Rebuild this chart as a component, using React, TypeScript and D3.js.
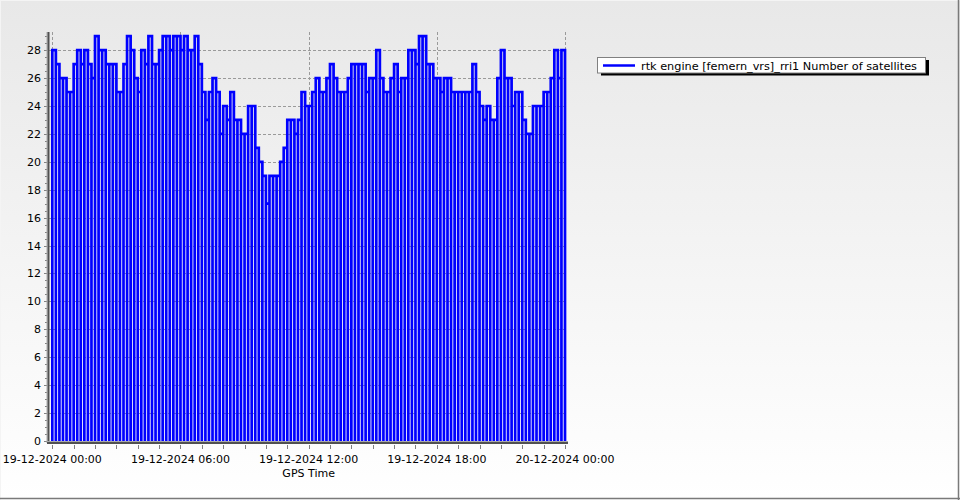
import React from 'react';
import * as d3 from 'd3';

// number of satellites, one value per 10 minutes, 19-12-2024 00:00 .. 24:00 (GPS time)
const satellites = [
  28, 27, 26, 26, 25, 25, 27, 28, 27, 28, 27, 26, 29, 28, 28, 27, 27, 27, 25, 25, 27, 29, 28, 26,
  25, 28, 27, 29, 27, 27, 28, 29, 29, 28, 29, 29, 28, 29, 28, 28, 29, 27, 25, 23, 25, 26, 25, 22,
  24, 23, 25, 23, 23, 22, 22, 24, 24, 21, 20, 19, 17, 19, 19, 19, 20, 21, 23, 23, 22, 23, 25, 24,
  24, 25, 26, 25, 25, 26, 27, 26, 25, 25, 25, 26, 27, 27, 27, 27, 25, 26, 26, 28, 26, 25, 25, 26,
  27, 25, 26, 26, 28, 28, 27, 29, 29, 27, 27, 26, 26, 25, 26, 26, 25, 25, 25, 25, 25, 25, 27, 25,
  24, 23, 24, 23, 23, 26, 28, 26, 26, 24, 25, 25, 23, 22, 22, 24, 24, 24, 25, 25, 26, 28, 26, 28,
];
const SAMPLE_MIN = 10;
const START = new Date(Date.UTC(2024, 11, 19, 0, 0));
const END = new Date(Date.UTC(2024, 11, 20, 0, 0));
const yTicks = d3.range(0, 29, 2);
const yMinor = d3.range(0, 29.01, 0.5);
const seriesName = 'rtk engine [femern_vrs]_rri1 Number of satellites';
const xTitle = 'GPS Time';

const W = 960;
const H = 500;
const PLOT = { left: 48, right: 566, top: 32, bottom: 441 };

const fmt = d3.utcFormat('%d-%m-%Y %H:%M');

export default function App() {
  const x = d3.scaleUtc().domain([START, END]).range([52.3, 565]);
  const y = d3.scaleLinear().domain([0, 29.3]).range([PLOT.bottom, PLOT.top]);

  // each sample is drawn as a column: the receiver output drops to 0 between epochs
  const pts: [Date, number][] = [];
  satellites.forEach((v, i) => {
    const t0 = d3.utcMinute.offset(START, i * SAMPLE_MIN);
    const t1 = d3.utcMinute.offset(START, (i + 1) * SAMPLE_MIN);
    pts.push([t0, 0], [t0, v], [t1, v], [t1, 0]);
  });
  const line = d3
    .line<[Date, number]>()
    .x((d) => x(d[0]))
    .y((d) => y(d[1]));

  const xMajor = x.ticks(d3.utcHour.every(6)!);
  const xMinor = x.ticks(d3.utcMinute.every(90)!);
  const font = 'DejaVu Sans, Verdana, sans-serif';

  return (
    <svg width={W} height={H} style={{ position: 'absolute', left: 0, top: 0 }}>
      <defs>
        <linearGradient id="bg" x1="0" y1="0" x2="0" y2="1">
          <stop offset="0" stopColor="#e8e8e8" />
          <stop offset="1" stopColor="#ffffff" />
        </linearGradient>
      </defs>
      <rect x={0} y={0} width={W} height={H} fill="url(#bg)" />
      {/* frame */}
      <line x1={0} x2={W} y1={0.5} y2={0.5} stroke="#f4f4f4" />
      <line x1={0.5} x2={0.5} y1={0} y2={H} stroke="#f4f4f4" />
      <line x1={0} x2={W} y1={498.5} y2={498.5} stroke="#7a7a7a" strokeWidth={1.5} />
      <line x1={958.5} x2={958.5} y1={0} y2={H} stroke="#7a7a7a" strokeWidth={1.5} />

      {/* grid */}
      <g stroke="#9a9a9a" strokeDasharray="3,2" strokeWidth={1}>
        {yTicks.map((v) => (
          <line key={v} x1={PLOT.left} x2={PLOT.right} y1={Math.round(y(v)) + 0.5} y2={Math.round(y(v)) + 0.5} />
        ))}
        {xMajor.map((t) => (
          <line key={+t} x1={Math.round(x(t)) + 0.5} x2={Math.round(x(t)) + 0.5} y1={PLOT.top} y2={PLOT.bottom} />
        ))}
      </g>

      <path
        d={line(pts) ?? ''}
        fill="none"
        stroke="#0000ff"
        strokeWidth={2.7}
        strokeLinejoin="miter"
      />

      {/* y axis */}
      <g stroke="#808080">
        {yMinor.map((v) => (
          <line
            key={v}
            x1={v % 2 === 0 ? 44 : 45}
            x2={47}
            y1={Math.round(y(v)) + 0.5}
            y2={Math.round(y(v)) + 0.5}
          />
        ))}
      </g>
      <g fontFamily={font} fontSize={11} fill="#000" textAnchor="end">
        {yTicks.map((v) => (
          <text key={v} x={41} y={y(v)} dy="0.36em">
            {v}
          </text>
        ))}
      </g>
      <line x1={47} x2={47} y1={PLOT.top} y2={443} stroke="#a8a8a8" />
      <line x1={48.5} x2={48.5} y1={PLOT.top} y2={444} stroke="#505050" strokeWidth={2} />

      {/* x axis */}
      <line x1={47} x2={568} y1={441.5} y2={441.5} stroke="#a8a8a8" />
      <line x1={47} x2={568} y1={443} y2={443} stroke="#505050" strokeWidth={2} />
      <g stroke="#808080">
        {xMinor.map((t) => (
          <line key={+t} x1={Math.round(x(t)) + 0.5} x2={Math.round(x(t)) + 0.5} y1={445} y2={449} />
        ))}
      </g>
      <g fontFamily={font} fontSize={11} fill="#000" textAnchor="middle">
        {xMajor.map((t) => (
          <text key={+t} x={x(t)} y={463}>
            {fmt(t)}
          </text>
        ))}
        <text x={(x(START) + x(END)) / 2} y={477}>
          {xTitle}
        </text>
      </g>

      {/* legend */}
      <rect x={601} y={60} width={328} height={15.5} fill="#000" />
      <rect x={597.5} y={57.5} width={328} height={15.5} fill="#fff" stroke="#808080" />
      <line x1={603} x2={635} y1={65.5} y2={65.5} stroke="#0000ff" strokeWidth={2.5} />
      <text
        x={641}
        y={69.5}
        fontFamily={font}
        fontSize={11}
        fill="#000"
        textLength={276}
        lengthAdjust="spacingAndGlyphs"
      >
        {seriesName}
      </text>
    </svg>
  );
}
